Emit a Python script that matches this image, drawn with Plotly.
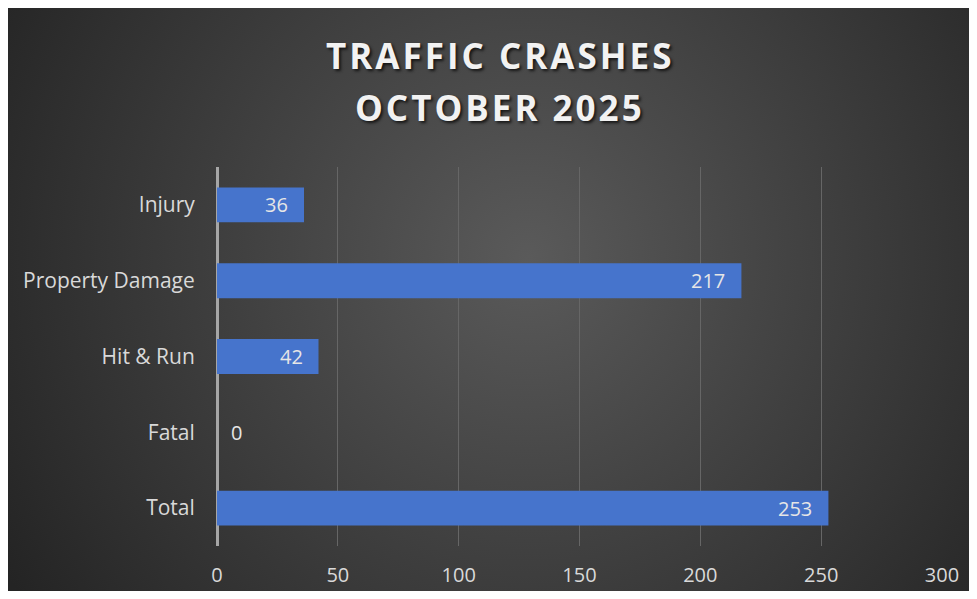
import base64
import plotly.graph_objects as go

categories = ["Injury", "Property Damage", "Hit & Run", "Fatal", "Total"]
values = [36, 217, 42, 0, 253]
x_ticks = [0, 50, 100, 150, 200, 250, 300]
title_lines = ["TRAFFIC CRASHES", "OCTOBER 2025"]

FW, FH = 961, 583
L, R, T, B = 209, 27, 159, 45
PW, PH = FW - L - R, FH - T - B
FONT = "Open Sans"


def px_x(px):
    return (px - L) / PW


def px_y(py):
    return (FH - B - py) / PH


svg = (
    '<svg xmlns="http://www.w3.org/2000/svg" width="961" height="583" viewBox="0 0 961 583">'
    '<defs><radialGradient id="g" gradientUnits="userSpaceOnUse" cx="520" cy="250" r="610">'
    '<stop offset="0" stop-color="#5a5a5a"/><stop offset="1" stop-color="#242424"/>'
    '</radialGradient></defs><rect width="961" height="583" fill="url(#g)"/></svg>'
)
bg_src = "data:image/svg+xml;base64," + base64.b64encode(svg.encode()).decode()

fig = go.Figure()
fig.add_trace(go.Bar(
    x=values, y=categories, orientation="h",
    marker=dict(color="#4674cc", line=dict(width=0)),
    hoverinfo="x+y",
))

annotations = []
for c, v in zip(categories, values):
    if v > 0:
        annotations.append(dict(x=v, y=c, xref="x", yref="y", text=str(v), showarrow=False,
                                xanchor="right", xshift=-14,
                                font=dict(family=FONT, size=20, color="#e6e6e6")))
    else:
        annotations.append(dict(x=v, y=c, xref="x", yref="y", text=str(v), showarrow=False,
                                xanchor="left", xshift=12,
                                font=dict(family=FONT, size=20, color="#e6e6e6")))

for t, py in zip(title_lines, [48, 100]):
    annotations.append(dict(x=px_x(492), y=px_y(py), xref="paper", yref="paper",
                            text='<b><span style="letter-spacing:3px">' + t + '</span></b>',
                            showarrow=False, xanchor="center", yanchor="middle",
                            font=dict(family=FONT, size=35, color="#f2f2f2",
                                      shadow="2px 2px 3px rgba(0,0,0,0.7)")))

fig.update_layout(
    width=FW, height=FH,
    margin=dict(l=L, r=R, t=T, b=B, autoexpand=False),
    paper_bgcolor="#262626",
    plot_bgcolor="rgba(0,0,0,0)",
    showlegend=False,
    bargap=0.54,
    annotations=annotations,
    images=[dict(source=bg_src, xref="paper", yref="paper", x=px_x(0), y=px_y(0),
                 sizex=FW / PW, sizey=FH / PH,
                 xanchor="left", yanchor="top", sizing="stretch", layer="below")],
    xaxis=dict(
        range=[0, 300], tickvals=x_ticks,
        showgrid=True, gridcolor="#666666", gridwidth=1,
        zeroline=True, zerolinecolor="#a6a6a6", zerolinewidth=3,
        showline=False, ticks="outside", ticklen=11, tickcolor="rgba(0,0,0,0)",
        tickfont=dict(family=FONT, size=20, color="#d9d9d9"),
        fixedrange=True, automargin=False,
    ),
    yaxis=dict(
        autorange="reversed",
        categoryorder="array", categoryarray=categories,
        showgrid=False, zeroline=False, showline=False,
        ticks="outside", ticklen=17, tickcolor="rgba(0,0,0,0)",
        tickfont=dict(family=FONT, size=21, color="#d9d9d9"),
        fixedrange=True, automargin=False,
    ),
)

fig.write_html("out.html")
